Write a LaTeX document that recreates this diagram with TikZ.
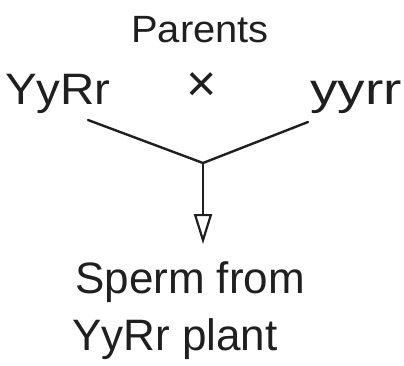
\documentclass[tikz,border=0pt]{standalone}
\usepackage{fontspec}
\setmainfont{Liberation Sans}
\usetikzlibrary{arrows.meta}
\begin{document}
\begin{tikzpicture}[x=1pt,y=-1pt,
  lbl/.style={inner sep=0pt, font=\fontsize{38}{40}\selectfont, text=black!88},
  big/.style={lbl, font=\fontsize{44}{46}\selectfont},
  conn/.style={line width=2.4pt, draw=black!88, line cap=round}]
\useasboundingbox (0,0) rectangle (404,365);
\node[lbl, xscale=1.05] (parents) at (200,30) {Parents};
\node[big, anchor=base west, xscale=1.08] (p1) at (5,104) {YyRr};
\node[lbl, font=\fontsize{52}{52}\selectfont] (cross) at (202,87) {×};
\node[big, anchor=base east, xscale=1.25] (p2) at (402,104) {yyrr};
\coordinate (l) at (88,120);
\coordinate (r) at (308,122);
\coordinate (j) at (203,163);
\node[big, anchor=base west] (s1) at (75,293) {Sperm from};
\node[big, anchor=base west] (s2) at (72,350) {YyRr plant};
\draw[conn] (l) -- (j) -- (r);
\draw[conn, -{Triangle[open, length=30pt, width=18pt, line width=2.2pt]}] (j) -- (203,244);
\end{tikzpicture}
\end{document}
